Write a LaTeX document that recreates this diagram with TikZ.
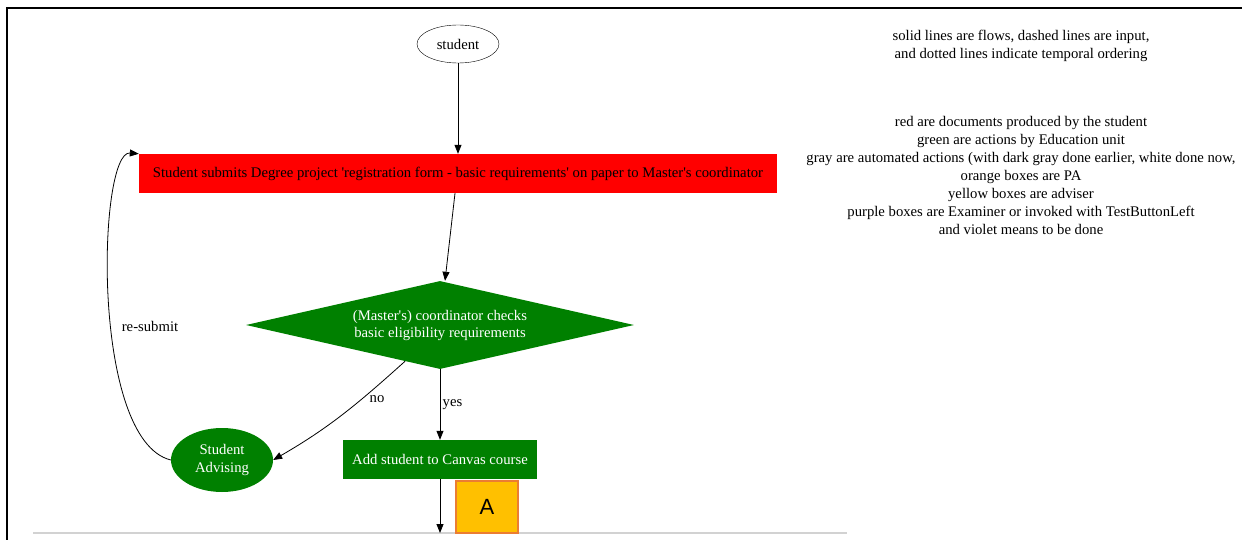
\documentclass[tikz,border=0pt]{standalone}
\usepackage{fontspec}
\setmainfont{Liberation Serif}
\newfontfamily\boxfont{Liberation Sans}
\usetikzlibrary{shapes.geometric,arrows.meta,calc}
\definecolor{gvgreen}{RGB}{0,128,0}
\definecolor{gvred}{RGB}{255,0,0}
\definecolor{advgold}{RGB}{255,192,0}
\definecolor{advedge}{RGB}{235,125,50}
\tikzset{
  flow/.style={-{Triangle[length=9pt,width=7pt]},black,line width=0.8pt},
  docbox/.style={rectangle,fill=gvred,minimum width=638pt,minimum height=39pt,inner sep=0pt},
  actbox/.style={rectangle,fill=gvgreen,text=white,minimum width=194pt,minimum height=39pt,inner sep=0pt},
}
\begin{document}
\begin{tikzpicture}[x=1pt,y=-1pt,font=\fontsize{14.7}{18}\selectfont]
\useasboundingbox (0,0) rectangle (1242,540);
%%% frame and bottom rule
\draw[line width=2pt] (7,541) -- (7,8) -- (1243,8);
\draw[gray!35,line width=1.5pt] (33,533) -- (847,533);
%%% legend
\node[align=center] (legflow) at (1021,46) {solid lines are flows, dashed lines are input,\\and dotted lines indicate temporal ordering};
\node[align=center] (legcol) at (1021,175) {red are documents produced by the student\\green are actions by Education unit\\gray are automated actions (with dark gray done earlier, white done now,\\orange boxes are PA\\yellow boxes are adviser\\purple boxes are Examiner or invoked with TestButtonLeft\\and violet means to be done};
%%% the flow
\node[draw,ellipse,minimum width=82pt,minimum height=38pt,inner sep=0pt] (student) at (458,44) {student};
\node[docbox] (regform) at (458,173.5) {Student submits Degree project \textquotesingle registration form - basic requirements\textquotesingle{} on paper to Master\textquotesingle s coordinator};
\node[diamond,fill=gvgreen,text=white,align=center,minimum width=388pt,minimum height=88pt,inner sep=0pt,shape aspect=4.4] (check) at (440,325) {\raisebox{-3pt}{\begin{tabular}{@{}c@{}}(Master\textquotesingle s) coordinator checks\\[-1pt]basic eligibility requirements\end{tabular}}};
\node[actbox] (canvas) at (440,459.5) {Add student to Canvas course};
\node[ellipse,fill=gvgreen,text=white,align=center,minimum width=102pt,minimum height=64pt,inner sep=0pt] (advise) at (222,460) {Student\\Advising};
\node[draw=advedge,fill=advgold,line width=2pt,minimum width=62pt,minimum height=52pt,font=\boxfont\fontsize{22}{22}\selectfont] (boxA) at (487,507) {A};
\coordinate (canvasout) at (440,533);
%
\draw[flow] (student) -- (regform);
\draw[flow] ([xshift=-3pt]regform.south) -- ([xshift=5pt]check.north);
\draw[flow] (check.south) -- node[right,xshift=-1pt] {yes} (canvas.north);
\draw[flow] ($(check.south)!0.18!(check.west)$) to[out=-138,in=30] (advise.east);
\node (nolabel) at (377,399) {no};
\draw[flow] (advise.west) .. controls (90,440) and (98,150) .. (regform.north west);
\node (resubmit) at (150,326) {re-submit};
\draw[flow] (canvas.south) -- (canvasout);
\end{tikzpicture}
\end{document}
